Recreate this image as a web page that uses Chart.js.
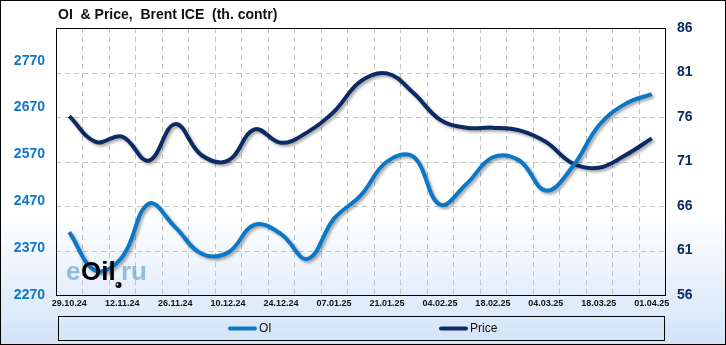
<!DOCTYPE html>
<html>
<head>
<meta charset="utf-8">
<script src="https://cdn.jsdelivr.net/npm/chart.js@4/dist/chart.umd.min.js"></script>
<style>
  body { margin: 0; background: #fff; }
  canvas { display: block; }
</style>
</head>
<body>
<canvas id="oiChart" width="726" height="345"></canvas>
<script>
const dates = ["29.10.24","05.11.24","12.11.24","19.11.24","26.11.24","03.12.24","10.12.24","17.12.24",
  "24.12.24","31.12.24","07.01.25","14.01.25","21.01.25","28.01.25","04.02.25","11.02.25","18.02.25",
  "25.02.25","04.03.25","11.03.25","18.03.25","25.03.25","01.04.25"];
const oiValues = [2404, 2322, 2351, 2465, 2415, 2358, 2361, 2420, 2400, 2347, 2433, 2482,
  2555, 2565, 2463, 2507, 2564, 2557, 2493, 2543, 2632, 2678, 2699];
const priceValues = [76.1, 73.2, 73.8, 71.1, 75.2, 71.7, 71.1, 74.6, 73.1, 74.3, 76.6, 80.0,
  80.9, 78.7, 75.7, 74.8, 74.8, 74.5, 73.2, 70.8, 70.3, 71.7, 73.6];
const oiTicks = [2270, 2370, 2470, 2570, 2670, 2770];

const OI_COLOR = "#0a78c6";
const PRICE_COLOR = "#0c2a64";
const FONT = "'Liberation Sans', Arial, sans-serif";

// background, grid, frame, title, legend, watermark
const decor = {
  id: "decor",
  beforeDraw(chart) {
    const ctx = chart.ctx, w = chart.width, h = chart.height;
    ctx.save();
    const g = ctx.createLinearGradient(0, 0, 0, h);
    g.addColorStop(0, "#ffffff");
    g.addColorStop(0.62, "#ffffff");
    g.addColorStop(1, "#d2e3f7");
    ctx.fillStyle = g;
    ctx.fillRect(0, 0, w, h);
    ctx.strokeStyle = "#000";
    ctx.lineWidth = 1;
    ctx.strokeRect(0.5, 0.5, w - 1, h - 1);
    ctx.fillStyle = "#111";
    ctx.font = "bold 14px " + FONT;
    ctx.textBaseline = "middle";
    ctx.fillText("OI  & Price,  Brent ICE  (th. contr)", 58, 15);
    ctx.restore();
  },
  beforeDatasetsDraw(chart) {
    const ctx = chart.ctx, a = chart.chartArea;
    const x = chart.scales.x, yp = chart.scales.yPrice;
    ctx.save();
    ctx.strokeStyle = "#c4c4c4";
    ctx.lineWidth = 1;
    ctx.setLineDash([5, 4]);
    for (let i = 1; i < dates.length; i++) {
      const px = Math.round((x.getPixelForTick(i - 1) + x.getPixelForTick(i)) / 2) + 0.5;
      ctx.beginPath();
      ctx.moveTo(px, a.top);
      ctx.lineTo(px, a.bottom);
      ctx.stroke();
    }
    yp.ticks.forEach(t => {
      const py = Math.round(yp.getPixelForValue(t.value)) + 0.5;
      ctx.beginPath();
      ctx.moveTo(a.left, py);
      ctx.lineTo(a.right, py);
      ctx.stroke();
    });
    ctx.restore();
  },
  beforeDatasetDraw(chart) {
    const ctx = chart.ctx;
    ctx.save();
    ctx.shadowColor = "rgba(0,0,0,0.35)";
    ctx.shadowBlur = 3;
    ctx.shadowOffsetX = 2;
    ctx.shadowOffsetY = 2;
  },
  afterDatasetDraw(chart) {
    chart.ctx.restore();
  },
  afterDatasetsDraw(chart) {
    const ctx = chart.ctx, a = chart.chartArea;
    ctx.save();
    // watermark
    ctx.font = "bold 26px " + FONT;
    ctx.textBaseline = "alphabetic";
    ctx.fillStyle = "rgba(90,150,205,0.6)";
    ctx.fillText("e", 66, 280);
    ctx.fillText("ru", 121, 280);
    ctx.fillStyle = "#000";
    ctx.fillText("Oil", 81, 280);
    ctx.beginPath();
    ctx.arc(118.5, 285, 3, 0, Math.PI * 2);
    ctx.fill();
    ctx.fillStyle = "#fff";
    ctx.beginPath();
    ctx.arc(117.5, 284.5, 1, 0, Math.PI * 2);
    ctx.fill();
    // frame
    ctx.strokeStyle = "#000";
    ctx.lineWidth = 1;
    ctx.strokeRect(Math.round(a.left) + 0.5, Math.round(a.top) + 0.5,
      Math.round(a.right - a.left), Math.round(a.bottom - a.top));
    // legend
    ctx.strokeRect(58.5, 316.5, 606, 24);
    const items = [[230, 0], [441, 1]];
    ctx.font = "12px " + FONT;
    ctx.textBaseline = "middle";
    items.forEach(([x, i]) => {
      const ds = chart.data.datasets[i];
      ctx.strokeStyle = ds.borderColor;
      ctx.lineWidth = 4;
      ctx.lineCap = "round";
      ctx.beginPath();
      ctx.moveTo(x, 328.5);
      ctx.lineTo(x + 25, 328.5);
      ctx.stroke();
      ctx.fillStyle = "#111";
      ctx.fillText(ds.label, x + 29, 329);
    });
    ctx.restore();
  }
};

new Chart(document.getElementById("oiChart"), {
  type: "line",
  data: {
    labels: dates,
    datasets: [
      { label: "OI", data: oiValues, yAxisID: "yOI", borderColor: OI_COLOR,
        borderWidth: 4, pointRadius: 0, tension: 0.4 },
      { label: "Price", data: priceValues, yAxisID: "yPrice", borderColor: PRICE_COLOR,
        borderWidth: 4, pointRadius: 0, tension: 0.4 }
    ]
  },
  options: {
    responsive: false,
    animation: false,
    devicePixelRatio: 1,
    layout: { padding: { top: 28, bottom: 33, left: 0, right: 0 } },
    plugins: { legend: { display: false }, title: { display: false }, tooltip: { enabled: false } },
    scales: {
      x: {
        offset: true,
        grid: { display: false, drawTicks: false },
        border: { display: false },
        ticks: {
          autoSkip: false, maxRotation: 0, padding: 3, color: "#111",
          font: { family: FONT, size: 9, weight: "bold" },
          callback: (v, i) => i % 2 === 0 ? dates[i] : ""
        },
        afterFit: s => { s.height = 17; }
      },
      yOI: {
        position: "left",
        min: 2270, max: 2840,
        grid: { display: false, drawTicks: false },
        border: { display: false },
        afterBuildTicks: s => { s.ticks = oiTicks.map(v => ({ value: v })); },
        ticks: { padding: 11, color: "#1076c6", font: { family: FONT, size: 14, weight: "bold" },
          callback: v => String(v) },
        afterFit: s => { s.width = 56; }
      },
      yPrice: {
        position: "right",
        min: 56, max: 86,
        grid: { display: false, drawTicks: false },
        border: { display: false },
        ticks: { stepSize: 5, padding: 12, color: PRICE_COLOR, font: { family: FONT, size: 14, weight: "bold" } },
        afterFit: s => { s.width = 61; }
      }
    }
  },
  plugins: [decor]
});
</script>
</body>
</html>
